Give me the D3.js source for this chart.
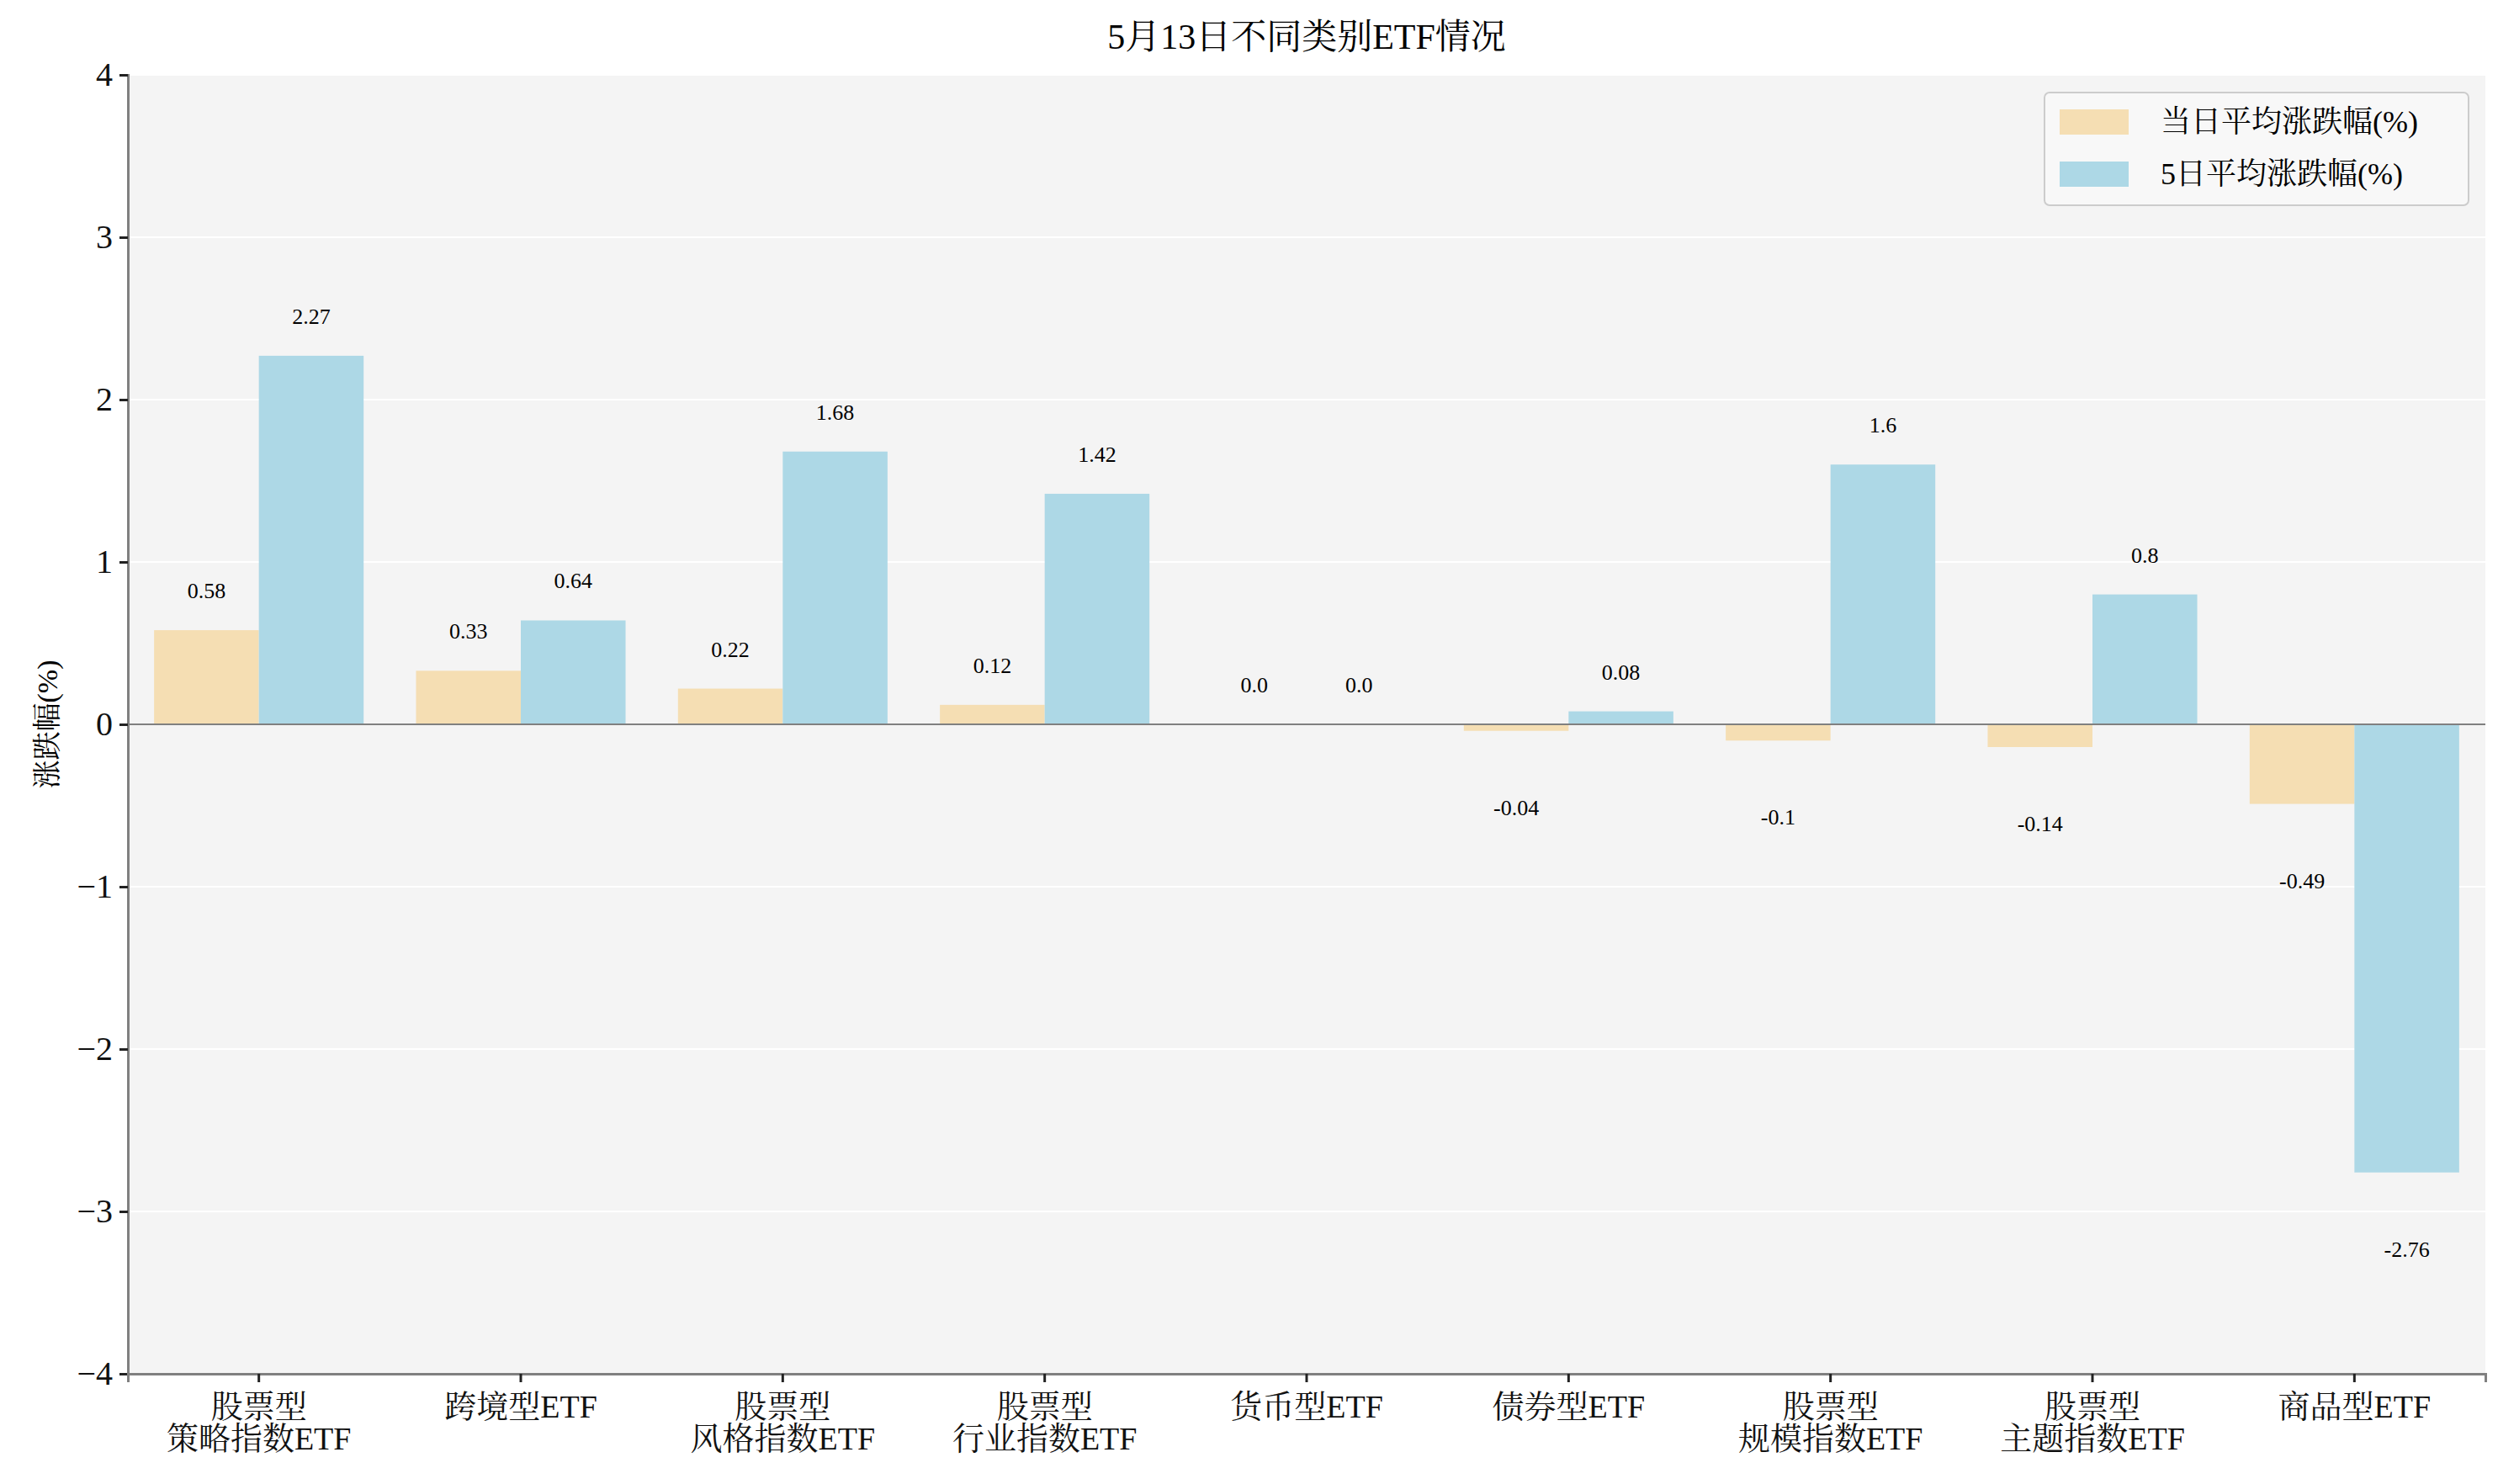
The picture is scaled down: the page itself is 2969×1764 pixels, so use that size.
<!DOCTYPE html>
<html><head><meta charset="utf-8">
<script src="https://cdn.jsdelivr.net/npm/d3@7"></script>
<style>body{margin:0;background:#fff}text{font-family:"Liberation Serif","Noto Serif CJK SC","Noto Sans CJK SC",serif}</style>
</head><body><svg id="c" width="2969" height="1764"></svg>
<script>
var categories = [["股票型","策略指数ETF"],["跨境型ETF"],["股票型","风格指数ETF"],["股票型","行业指数ETF"],["货币型ETF"],["债券型ETF"],["股票型","规模指数ETF"],["股票型","主题指数ETF"],["商品型ETF"]];
var dayValues = [0.58,0.33,0.22,0.12,0.0,-0.04,-0.1,-0.14,-0.49];
var fiveDayValues = [2.27,0.64,1.68,1.42,0.0,0.08,1.6,0.8,-2.76];
var seriesNames = ["当日平均涨跌幅(%)","5日平均涨跌幅(%)"];
var colors = ["#F5DEB3","#ADD8E6"];
var yTicks = [-4,-3,-2,-1,0,1,2,3,4];

var svg = d3.select("#c");
var L=152,R=2954,T=89,B=1633;
var x = d3.scaleBand().domain(d3.range(categories.length)).range([L,R]);
var y = d3.scaleLinear().domain([-4,4]).range([B,T]);
svg.append("rect").attr("x",L).attr("y",T).attr("width",R-L).attr("height",B-T).attr("fill","#F4F4F4");
svg.selectAll(".g").data(yTicks).enter().append("line").attr("x1",L).attr("x2",R)
  .attr("y1",d=>y(d)).attr("y2",d=>y(d)).attr("stroke","#fff").attr("stroke-width",2);

var bw = x.bandwidth()*0.4;
[dayValues,fiveDayValues].forEach(function(vals,s){
  var g = svg.append("g");
  g.selectAll("rect").data(vals).enter().append("rect")
    .attr("x",(d,i)=>x(i)+x.bandwidth()*0.1+s*bw).attr("width",bw)
    .attr("y",d=>y(Math.max(d,0))).attr("height",d=>Math.abs(y(d)-y(0)))
    .attr("fill",colors[s]);
  g.selectAll("text").data(vals).enter().append("text")
    .attr("x",(d,i)=>x(i)+x.bandwidth()*0.1+s*bw+bw/2)
    .attr("y",d=>d>=0?y(d)-38:y(d)+100)
    .attr("text-anchor","middle").attr("font-size",26)
    .text(d=>d===0?"0.0":String(d));
});
svg.append("line").attr("x1",L).attr("x2",R).attr("y1",y(0)).attr("y2",y(0)).attr("stroke","#808080").attr("stroke-width",2);

var ya = svg.append("g").attr("transform","translate("+L+",0)")
  .call(d3.axisLeft(y).tickValues(yTicks).tickSize(10).tickPadding(8).tickFormat(d3.format("d")));
var xa = svg.append("g").attr("transform","translate(0,"+B+")")
  .call(d3.axisBottom(x).tickSize(10).tickFormat(""));
[ya,xa].forEach(function(a){
  a.select(".domain").attr("stroke","#808080").attr("stroke-width",3);
  a.selectAll(".tick line").attr("stroke","#222").attr("stroke-width",3);
});
ya.selectAll(".tick text").attr("font-size",40).attr("fill","#111").style("font-family","Liberation Serif");
xa.selectAll(".tick").each(function(d){
  var t = d3.select(this).append("text").attr("text-anchor","middle").attr("font-size",38).attr("fill","#111");
  categories[d].forEach(function(line,k){
    t.append("tspan").attr("x",0).attr("y",B*0+52+k*38).text(line);
  });
});

svg.append("text").attr("x",(L+R)/2).attr("y",58).attr("text-anchor","middle").attr("font-size",42).text("5月13日不同类别ETF情况");
svg.append("text").attr("transform","translate(68,"+(y(0))+") rotate(-90)").attr("text-anchor","middle").attr("font-size",34).text("涨跌幅(%)");

var lg = svg.append("g").attr("transform","translate(2430,110)");
lg.append("rect").attr("width",504).attr("height",134).attr("rx",6).attr("fill","#F8F8F8").attr("stroke","#ccc").attr("stroke-width",2);
seriesNames.forEach(function(n,i){
  lg.append("rect").attr("x",18).attr("y",20+i*62).attr("width",82).attr("height",30).attr("fill",colors[i]);
  lg.append("text").attr("x",138).attr("y",47+i*62).attr("font-size",36).text(n);
});
</script></body></html>
